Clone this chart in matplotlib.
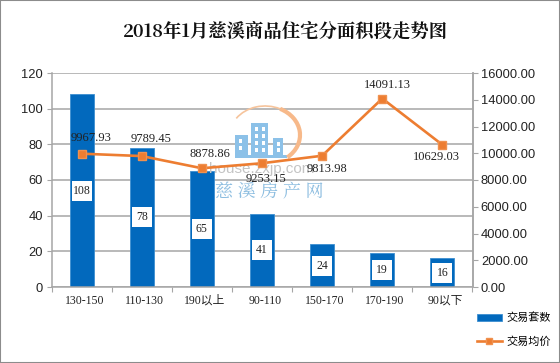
import matplotlib
matplotlib.use("Agg")
import numpy as np
import matplotlib.pyplot as plt
from matplotlib.patches import Rectangle, Arc

plt.rcParams['font.family'] = ['Noto Sans CJK SC', 'DejaVu Sans']

categories = ['130-150', '110-130', '190以上', '90-110', '150-170', '170-190', '90以下']
counts = [108, 78, 65, 41, 24, 19, 16]
prices = [9967.93, 9789.45, 8878.86, 9253.15, 9813.98, 14091.13, 10629.03]
price_labels = ['9967.93', '9789.45', '8878.86', '9253.15', '9813.98', '14091.13', '10629.03']
left_ticks = [0, 20, 40, 60, 80, 100, 120]
right_ticks = [0, 2000, 4000, 6000, 8000, 10000, 12000, 14000, 16000]
# offset of each price label from its marker, in points
label_offsets = [(6.5, 11), (6.5, 12), (6, 10), (3, -11), (3.5, -9.5), (3.5, 10), (-4.5, -8.5)]

W, H = 560, 363
GREY = '#a6a6a6'
fig = plt.figure(figsize=(W / 100, H / 100), dpi=100)
fig.add_artist(Rectangle((0, 0), 1, 1, transform=fig.transFigure, fill=False, ec='#8c8c8c', lw=1.5))

ax = fig.add_axes([51.5 / W, 1 - 287 / H, 421 / W, 214 / H])
x = np.arange(len(categories))
ax.bar(x, counts, width=0.4, color='#0269bd', edgecolor='#3c8fd0', lw=0.6, zorder=2, label='交易套数')
ax.set_xlim(-0.5, 6.5)
ax.set_ylim(0, 120)
ax.set_yticks(left_ticks)
ax.set_xticks(np.arange(len(categories) + 1) - 0.5)
ax.set_xticklabels([])
ax.grid(axis='y', color=GREY, lw=1.1, zorder=1)
ax.set_axisbelow(True)
ax.tick_params(axis='y', labelsize=9.3, length=3.5, color=GREY, pad=2.5, labelcolor='#222222')
ax.tick_params(axis='x', length=3.5, color=GREY)
for lab in ax.get_yticklabels():
    lab.set_family('Liberation Sans')
ax.spines['top'].set_visible(False)
for name in ['left', 'right', 'bottom']:
    ax.spines[name].set_color(GREY)
    ax.spines[name].set_linewidth(1.1)

# white squares behind the bar values, same size for every bar
ax.scatter(x, np.array(counts) / 2, marker='s', s=200, color='white', linewidths=0, zorder=5)
for i, name in enumerate(categories):
    ax.annotate(name, (i, 0), xytext=(2, -10), textcoords='offset points', ha='center', va='center',
                fontsize=8.5, family=['Liberation Serif', 'Noto Sans CJK SC'], color='#222222')
    ax.text(i, counts[i] / 2, str(counts[i]), ha='center', va='center', fontsize=8.5,
            family='Liberation Serif', color='#222222', zorder=6)

ax2 = ax.twinx()
ax2.set_zorder(1)
ax2.plot(x, prices, color='#ed7d31', lw=1.9, marker='s', ms=5.5, mfc='#ed7d31', mec='#f0914f', zorder=5, label='交易均价')
ax2.set_ylim(0, 16000)
ax2.set_yticks(right_ticks)
ax2.set_yticklabels(['%.2f' % t for t in right_ticks], family='Liberation Sans')
ax2.tick_params(axis='y', labelsize=9.3, length=3.5, color=GREY, pad=2.5, labelcolor='#222222')
for name in ['top', 'left', 'bottom']:
    ax2.spines[name].set_visible(False)
ax2.spines['right'].set_color(GREY)
ax2.spines['right'].set_linewidth(1.1)
for i in range(len(prices)):
    ax2.annotate(price_labels[i], (x[i], prices[i]), xytext=label_offsets[i], textcoords='offset points',
                 ha='center', va='center', fontsize=9, family='Liberation Serif', color='#222222', zorder=7)

# watermark, placed in pixels, between the grid and the line
wm = fig.add_axes([0, 0, 1, 1], zorder=0.5)
wm.set_xlim(0, W)
wm.set_ylim(H, 0)
wm.axis('off')
wm.patch.set_alpha(0)
blue = '#8cc1e8'
for bx, by, bw, bh in [(235, 135, 13, 20), (251, 123, 17, 32), (273, 138, 10, 17)]:
    wm.add_patch(Rectangle((bx, by), bw, bh, fc=blue, ec='none'))
for wx, wy in [(239, 139), (239, 146), (255, 127), (262, 127), (255, 134), (262, 134), (255, 141), (262, 141), (255, 148), (262, 148), (277, 142), (277, 148)]:
    wm.add_patch(Rectangle((wx, wy), 3, 4, fc='white', ec='none'))
wm.add_patch(Rectangle((235, 155), 52, 2.5, fc=blue, ec='none'))
wm.add_patch(Arc((265, 135), 70, 58, theta1=210, theta2=300, ec='#f6c49c', lw=1.2))
wm.add_patch(Arc((265, 135), 70, 58, theta1=300, theta2=405, ec='#f7b98a', lw=3))
wm.text(262, 169, 'house.zxjp.com', ha='center', va='center', fontsize=11, color='#c4c4c4',
        family='Liberation Sans')
wm.text(269, 192, '慈 溪 房 产 网', ha='center', va='center', fontsize=13, color='#8cbde0',
        family=['Noto Serif CJK SC', 'Noto Sans CJK SC'])

h1, l1 = ax.get_legend_handles_labels()
h2, l2 = ax2.get_legend_handles_labels()
fig.legend(h1 + h2, l1 + l2, loc='center right', bbox_to_anchor=(551 / W, 1 - 330 / H), frameon=False,
           prop={'family': 'Noto Sans CJK SC', 'size': 8}, labelspacing=1.2, handlelength=2.2, handletextpad=0.45,
           borderpad=0, borderaxespad=0, markerscale=0.85)

fig.text(285 / W, 1 - 32 / H, '2018年1月慈溪商品住宅分面积段走势图', ha='center', va='center', fontsize=13.2,
         family=['Noto Serif CJK SC', 'Noto Sans CJK SC'], weight='semibold', color='#111111')

fig.savefig('out.png', dpi=100, facecolor='white')
